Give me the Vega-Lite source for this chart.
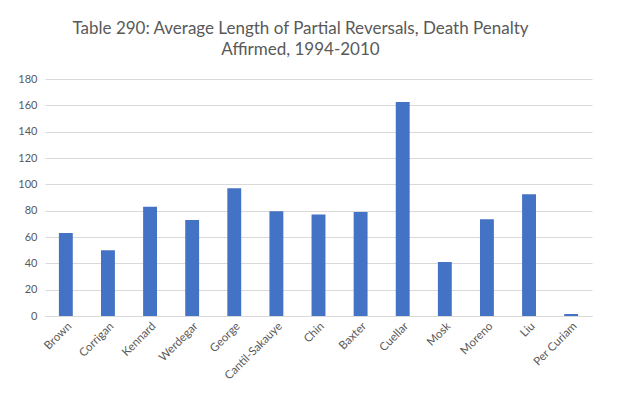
{
  "$schema": "https://vega.github.io/schema/vega-lite/v6.json",
  "width": 547,
  "height": 237,
  "autosize": {"type": "none"},
  "padding": {"left": 45, "top": 79, "right": 27, "bottom": 82},
  "background": "white",
  "title": {
    "text": ["Table 290: Average Length of Partial Reversals, Death Penalty", "Affirmed, 1994-2010"],
    "font": "Lato",
    "fontSize": 17,
    "fontWeight": "normal",
    "color": "#595959",
    "lineHeight": 21,
    "anchor": "middle",
    "dx": -18,
    "offset": 14
  },
  "data": {
    "values": [
      {"justice": "Brown", "value": 63},
      {"justice": "Corrigan", "value": 50},
      {"justice": "Kennard", "value": 83},
      {"justice": "Werdegar", "value": 73},
      {"justice": "George", "value": 97},
      {"justice": "Cantil-Sakauye", "value": 79.5},
      {"justice": "Chin", "value": 77},
      {"justice": "Baxter", "value": 79},
      {"justice": "Cuellar", "value": 162.5},
      {"justice": "Mosk", "value": 41},
      {"justice": "Moreno", "value": 73.5},
      {"justice": "Liu", "value": 92.5},
      {"justice": "Per Curiam", "value": 1.5}
    ]
  },
  "mark": {"type": "bar", "color": "#4472C4"},
  "encoding": {
    "x": {
      "field": "justice",
      "type": "nominal",
      "sort": null,
      "scale": {"paddingInner": 0.67, "paddingOuter": 0.33},
      "axis": {
        "title": null,
        "labelAngle": -45,
        "labelFont": "Lato",
        "labelFontSize": 11.5,
        "labelColor": "#595959",
        "ticks": false,
        "labelPadding": 4,
        "domainColor": "#d9d9d9",
        "grid": false
      }
    },
    "y": {
      "field": "value",
      "type": "quantitative",
      "scale": {"domain": [0, 180]},
      "axis": {
        "title": null,
        "values": [0, 20, 40, 60, 80, 100, 120, 140, 160, 180],
        "labelFont": "Lato",
        "labelFontSize": 11,
        "labelColor": "#595959",
        "ticks": false,
        "domain": false,
        "labelPadding": 8,
        "gridColor": "#d9d9d9"
      }
    }
  },
  "config": {"view": {"stroke": null}}
}
